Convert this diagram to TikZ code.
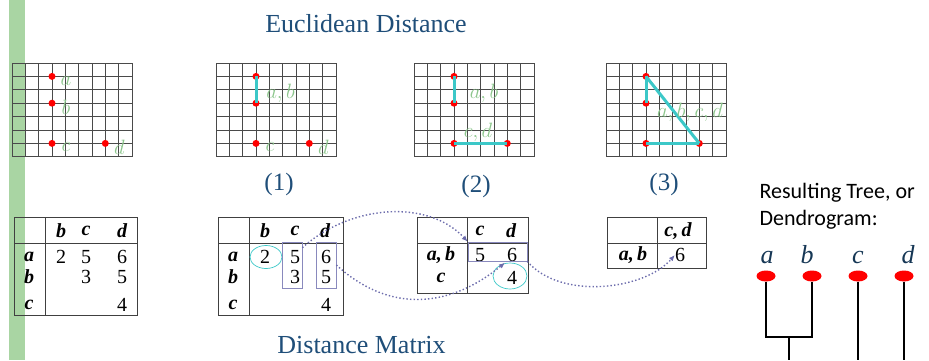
\documentclass[tikz,border=0pt]{standalone}
\usepackage{fontspec}
\setmainfont{Liberation Serif}
\newfontfamily\calibrifont{Carlito}
\usetikzlibrary{arrows.meta, positioning, shapes.geometric}

\definecolor{headblue}{HTML}{1F4E79}
\definecolor{mergecyan}{HTML}{3CC8C8}
\definecolor{labgreen}{HTML}{8CC68C}
\definecolor{bargreen}{HTML}{A9D5A3}
\definecolor{linkpurple}{HTML}{6C6CAC}
\definecolor{gridgray}{HTML}{4A4A4A}

\tikzset{
  gridline/.style={draw=gridgray, line width=0.9pt},
  gpt/.style={circle, fill=red, inner sep=0pt, minimum size=7pt},
  ptlab/.style={text=labgreen, font=\fontsize{20}{20}\selectfont, inner sep=0pt},
  merge/.style={draw=mergecyan, line width=3pt},
  heading/.style={text=headblue, font=\fontsize{26}{26}\selectfont, inner sep=0pt},
  steplab/.style={text=headblue, font=\fontsize{25}{25}\selectfont, inner sep=0pt},
  tbl/.style={draw=black!75, line width=0.9pt},
  val/.style={font=\fontsize{20}{20}\selectfont, inner sep=0pt},
  hd/.style={font=\fontsize{20}{20}\selectfont\bfseries\itshape, inner sep=0pt},
  pick/.style={draw=linkpurple!80, line width=0.7pt, inner sep=0pt},
  ring/.style={ellipse, draw=mergecyan, line width=0.7pt, inner sep=0pt},
  link/.style={draw=linkpurple, line width=1.4pt, dash pattern=on 1.4pt off 2.2pt,
    -{Latex[length=6pt,width=5pt]}},
  leaf/.style={ellipse, fill=red, minimum width=19pt, minimum height=11pt, inner sep=0pt},
  leaflab/.style={text=headblue!70!black, font=\fontsize{26}{26}\selectfont\itshape, anchor=base},
  treecap/.style={anchor=base west, font=\calibrifont\fontsize{22}{22}\selectfont},
  tree/.style={draw=black, line width=2pt},
}

\begin{document}
\begin{tikzpicture}[x=1pt, y=-1pt]
\useasboundingbox (0,0) rectangle (929,360);
\fill[bargreen] (9,0) rectangle (25,360);

\node[heading] (title) at (366,24) {Euclidean Distance};
\node[heading] (mtitle) at (361.5,345) {Distance Matrix};

\foreach \gx [count=\i] in {12,216,414,606} {
  \foreach \k in {0,...,9}
    \draw[gridline] (\gx+\k*13.333,63) -- (\gx+\k*13.333,156.8);
  \foreach \k in {0,...,7}
    \draw[gridline] (\gx,63+\k*13.4) -- (\gx+120,63+\k*13.4);
  \node[gpt] (a\i) at (\gx+40,76.4) {};
  \node[gpt] (b\i) at (\gx+40,103.2) {};
  \node[gpt] (c\i) at (\gx+40,143.4) {};
  \node[gpt] (d\i) at (\gx+93.3,143.4) {};
}

\node[ptlab] (la1) at ([xshift=14pt,yshift=-5pt]a1.center) {$a$};
\node[ptlab] (lb1) at ([xshift=14pt,yshift=-4pt]b1.center) {$b$};
\node[ptlab] (lc1) at ([xshift=14pt,yshift=-4pt]c1.center) {$c$};
\node[ptlab] (ld1) at ([xshift=14pt,yshift=-4pt]d1.center) {$d$};

\draw[merge] (a2.center) -- (b2.center);
\node[ptlab] (lab2) at ([xshift=24.5pt,yshift=-16.6pt]a2.center) {$a,b$};
\node[ptlab] (lc2) at ([xshift=14pt,yshift=-4pt]c2.center) {$c$};
\node[ptlab] (ld2) at ([xshift=14pt,yshift=-4pt]d2.center) {$d$};

\draw[merge] (a3.center) -- (b3.center);
\draw[merge] (c3.center) -- (d3.center);
\node[ptlab] (lab3) at ([xshift=30pt,yshift=-16.6pt]a3.center) {$a,b$};
\node[ptlab] (lcd3) at ([xshift=24pt,yshift=11pt]c3.center) {$c,d$};

\draw[merge] (a4.center) -- (b4.center);
\draw[merge] (a4.center) -- (d4.center);
\draw[merge] (c4.center) -- (d4.center);
\node[ptlab] (labcd4) at (690,112) {$a,b,c,d$};

\node[steplab] (s1) at (279,184) {(1)};
\node[steplab] (s2) at (476,186) {(2)};
\node[steplab] (s3) at (664,184) {(3)};

% distance tables
\draw[tbl] (14,217) rectangle (137,315) (45,217) -- (45,315) (14,243) -- (137,243);
\foreach \nm/\x/\y/\txt in {t0hb/61/231/b, t0hc/86/231/c, t0hd/122/231/d,
    t0ra/29/257/a, t0rb/29/277/b, t0rc/29/305/c}
  \node[hd] (\nm) at (\x,\y) {\txt};
\foreach \nm/\x/\y/\txt in {t0ab/61/257/2, t0ac/86/257/5, t0ad/122/257/6,
    t0bc/86/277/3, t0bd/122/277/5, t0cd/122/305/4}
  \node[val] (\nm) at (\x,\y) {\txt};

\draw[tbl] (218,217) rectangle (343,315) (249,217) -- (249,315) (218,243) -- (343,243);
\foreach \nm/\x/\y/\txt in {t1hb/265/231/b, t1hc/295/231/c, t1hd/325/231/d,
    t1ra/233/257/a, t1rb/233/277/b, t1rc/233/305/c}
  \node[hd] (\nm) at (\x,\y) {\txt};
\foreach \nm/\x/\y/\txt in {t1ab/265/257/2, t1ac/295/257/5, t1ad/326/257/6,
    t1bc/295/277/3, t1bd/326/277/5, t1cd/326/305/4}
  \node[val] (\nm) at (\x,\y) {\txt};
\node[ring, minimum width=32pt, minimum height=23pt] (ring1) at (266,257) {};
\node[pick, minimum width=20pt, minimum height=46pt] (cbox) at (292,265) {};
\node[pick, minimum width=20pt, minimum height=46pt] (dbox) at (326,265) {};

\draw[tbl] (417,217) rectangle (528,293) (467,217) -- (467,293) (417,243) -- (528,243);
\node[hd] (t2hc) at (480,231) {c};
\node[hd] (t2hd) at (511,231) {d};
\node[hd] (t2rab) at (441,255) {a,\,b};
\node[hd] (t2rc) at (441,278) {c};
\node[val] (t2abc) at (480,255) {5};
\node[val] (t2abd) at (512,255) {6};
\node[val] (t2cd) at (512,278) {4};
\node[pick, minimum width=59pt, minimum height=19pt] (abbox) at (497.5,251.5) {};
\node[ring, minimum width=34pt, minimum height=26pt] (ring2) at (510,276) {};

\draw[tbl] (607,217) rectangle (706,268) (657,217) -- (657,268) (607,243) -- (706,243);
\node[hd] (t3hcd) at (678,231) {c,\,d};
\node[hd] (t3rab) at (633,255) {a,\,b};
\node[val] (t3v) at (680,255) {6};

\draw[link] ([yshift=-6pt]cbox.north east) .. controls +(48,-43) and +(-40,-43) .. (abbox.north west);
\draw[link] (dbox.east) .. controls +(49,45) and +(-60,49) .. ([xshift=-5pt]ring2.north);
\draw[link] (abbox.south east) .. controls +(33,39) and +(-30,35) .. (t3v.west);

% dendrogram
\node[treecap] (cap1) at (756,198) {Resulting Tree, or};
\node[treecap] (cap2) at (756,225) {Dendrogram:};
\foreach \nm/\x/\txt in {na/767/a, nb/807/b, nc/858/c, nd/908/d}
  \node[leaflab] (\nm) at (\x,263) {\txt};
\foreach \nm/\x in {la/766, lb/812, lc/858, ld/904}
  \node[leaf] (\nm) at (\x,276) {};
\coordinate (join) at (789,337);
\coordinate (endab) at (789,360);
\coordinate (endc) at (858,360);
\coordinate (endd) at (904,360);
\draw[tree] (la.south) |- (join) -| (lb.south);
\draw[tree] (join) -- (endab);
\draw[tree] (lc.south) -- (endc);
\draw[tree] (ld.south) -- (endd);
\end{tikzpicture}
\end{document}
